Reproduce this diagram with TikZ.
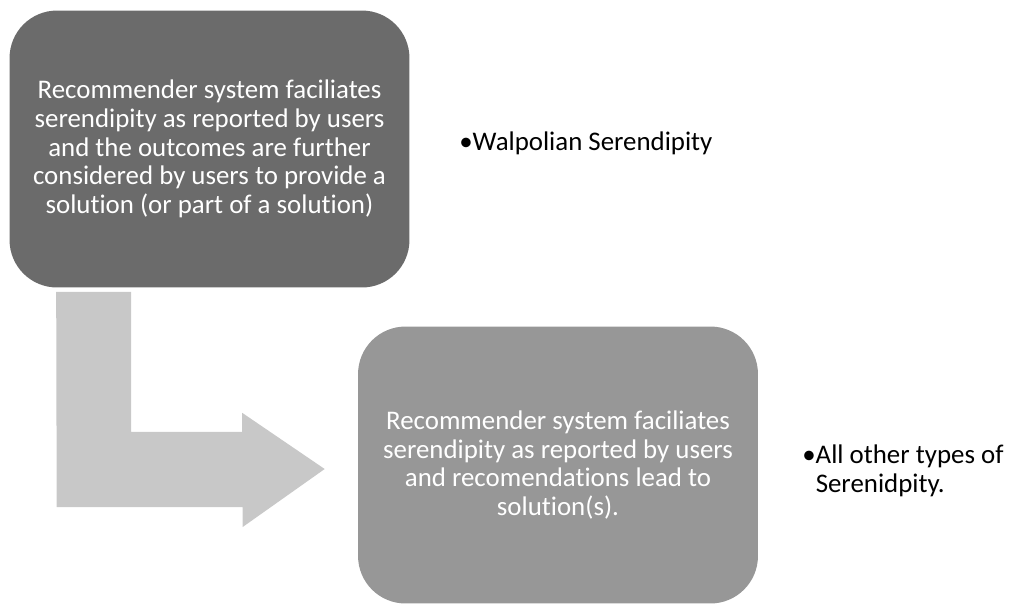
\documentclass[tikz,border=0pt]{standalone}
\usepackage{fontspec}
\setmainfont{Carlito}[Ligatures=NoCommon]
\usetikzlibrary{calc, positioning}

\definecolor{darkbox}{HTML}{6B6B6B}
\definecolor{midbox}{HTML}{979797}
\definecolor{arrowgray}{HTML}{C8C8C8}

\begin{document}
\begin{tikzpicture}[x=0.02cm, y=-0.02cm,
    font=\fontsize{15.3}{16.4}\selectfont,
    stagebox/.style={rounded corners=0.95cm, text=white, align=center,
        minimum width=8cm, minimum height=5.54cm, inner sep=0pt},
    bullettext/.style={text=black, align=left, inner sep=0pt}]
    \useasboundingbox (0,0) rectangle (1011,603);

    \node[stagebox, fill=darkbox] (walpbox) at (209.5,149)
        {Recommender system faciliates\\serendipity as reported by users\\and the outcomes are further\\considered by users to provide a\\solution (or part of a solution)};
    \node[stagebox, fill=midbox] (otherbox) at (558,465)
        {Recommender system faciliates\\serendipity as reported by users\\and recomendations lead to\\solution(s).};

    % bent arrow between the two stages
    \coordinate (shaft) at ($(walpbox.south west)+(47,4)$);
    \coordinate (tip) at ($(otherbox.west)+(-33,4)$);
    \fill[arrowgray] (shaft) -- ++(75,0) -- ++(0,140) -- ++(111,0) -- ++(0,-19)
        -- (tip) -- ++(-82,58) -- ++(0,-20) -- ++(-186,0) -- cycle;

    \node[bullettext, anchor=base west] (walptext) at (459,150) {\textbullet Walpolian Serendipity};
    \node[bullettext, anchor=base west] (othertext) at (802,492)
        {\textbullet All other types of\\\hphantom{\textbullet}Serenidpity.};
\end{tikzpicture}
\end{document}
